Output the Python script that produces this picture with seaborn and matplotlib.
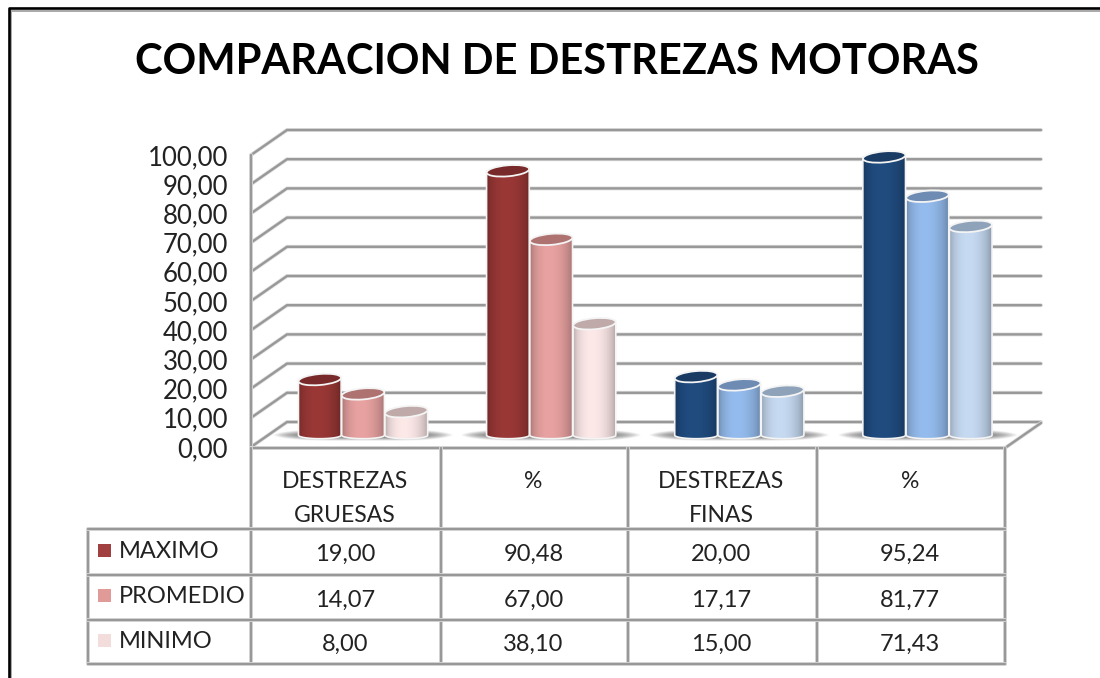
"""Comparacion de destrezas motoras: cylinder bars with a data table below."""

import matplotlib
matplotlib.use("Agg")
import matplotlib.pyplot as plt
import matplotlib.patheffects as pe
import numpy as np
import pandas as pd
import seaborn as sns
from matplotlib.patches import Ellipse, PathPatch, Rectangle
from matplotlib.path import Path
from matplotlib.ticker import FuncFormatter

# Data
group_keys = ["gruesas", "gruesas_pct", "finas", "finas_pct"]
group_labels = ["DESTREZAS\nGRUESAS", "%", "DESTREZAS\nFINAS", "%"]
series_names = ["MAXIMO", "PROMEDIO", "MINIMO"]
maximo = [19.00, 90.48, 20.00, 95.24]
promedio = [14.07, 67.00, 17.17, 81.77]
minimo = [8.00, 38.10, 15.00, 71.43]
y_ticks = [0, 10, 20, 30, 40, 50, 60, 70, 80, 90, 100]
title = "COMPARACION DE DESTREZAS MOTORAS"

# Colours per series: body centre and top cap, first two groups red, last two blue
red_body = ["#9A3836", "#E8A2A1", "#FEE9E9"]
red_cap = ["#772A29", "#AE7270", "#BFA9A9"]
blue_body = ["#204C80", "#94BCEE", "#C6DAF2"]
blue_cap = ["#183A63", "#6D8BB3", "#8EA2BA"]
swatches = ["#A04040", "#E09A98", "#F3DCDC"]
GRID = "#989898"
TEXT = "#222222"

W, H = 1100, 678
sns.set_theme(style="white")
plt.rcParams["font.family"] = ["Lato", "DejaVu Sans"]


def px_axes(fig, left, top, right, bottom):
    """Axes placed with reference pixel coordinates."""
    return fig.add_axes([left / W, 1 - bottom / H, (right - left) / W, (bottom - top) / H])


def comma(value):
    return f"{value:.2f}".replace(".", ",")


def grid_line(axis, xs, ys):
    # grey line with the soft halo the source picture has
    axis.plot(xs, ys, color=GRID, lw=1.7, solid_joinstyle="miter",
              path_effects=[pe.withStroke(linewidth=2.8, foreground="#DEDEDE")])


df = pd.DataFrame({
    "group": group_keys * 3,
    "serie": np.repeat(series_names, 4),
    "valor": maximo + promedio + minimo,
})

fig = plt.figure(figsize=(W / 100, H / 100), dpi=100, facecolor="white")

# Background layer in pixels: frame, walls, floor, table
bg = fig.add_axes([0, 0, 1, 1])
bg.set_xlim(0, W)
bg.set_ylim(H, 0)
bg.axis("off")
bg.plot([11, 11, W], [H, 10.5, 10.5], color="#A8A8A8", lw=1.4, solid_capstyle="butt")
bg.plot([8.7, 8.7, W], [H, 8.3, 8.3], color="black", lw=1.9, solid_capstyle="butt")

# Front plane: carries the value axis
FRONT_X, FRONT_TOP, FRONT_BOTTOM = 251, 155, 447
BACK_DX, BACK_DY, BACK_RIGHT = 36, -25, 1041
front = px_axes(fig, FRONT_X, FRONT_TOP, FRONT_X + 1, FRONT_BOTTOM)
front.patch.set_alpha(0)
front.set_ylim(0, 100)
front.set_xticks([])
front.set_yticks(y_ticks)
front.yaxis.set_major_formatter(FuncFormatter(lambda v, _: comma(v)))
front.tick_params(axis="y", length=0, pad=16.5, labelsize=18.5, labelcolor=TEXT)
sns.despine(ax=front, left=True, bottom=True)
for tick in y_ticks:
    fy = bg.transData.inverted().transform(front.transData.transform((0, tick)))[1]
    grid_line(bg, [FRONT_X, FRONT_X + BACK_DX, BACK_RIGHT], [fy, fy + BACK_DY, fy + BACK_DY])
grid_line(bg, [FRONT_X, FRONT_X], [FRONT_TOP, FRONT_BOTTOM + 1])
grid_line(bg, [FRONT_X, 1005, BACK_RIGHT], [FRONT_BOTTOM + 1, FRONT_BOTTOM + 1, FRONT_BOTTOM + 1 + BACK_DY])

# Table grid
col_x = [251, 441, 628, 817, 1005]
row_y = [448, 529, 575, 620, 664]
LEFT_X = 88
for x in col_x:
    grid_line(bg, [x, x], [row_y[0], row_y[-1]])
grid_line(bg, [LEFT_X, LEFT_X], [row_y[1], row_y[-1]])
for y in row_y[1:]:
    grid_line(bg, [LEFT_X, col_x[-1]], [y, y])

# Bars on their own value scale
ax = px_axes(fig, 269, 143, 1021.5, 435)
ax.patch.set_alpha(0)
sns.barplot(data=df, x="group", y="valor", hue="serie", order=group_keys,
            hue_order=series_names, width=0.69, gap=0, dodge=True, legend=False,
            saturation=1, ax=ax)
ax.set_xlim(-0.5, 3.5)
ax.set_ylim(0, 100)
ax.axis("off")

# Floor shadows, behind the cylinders
to_px = bg.transData.inverted()
yy, xx = np.mgrid[-1:1:40j, -1:1:160j]
shadow = np.zeros(xx.shape + (4,))
shadow[..., 3] = np.clip(1 - np.abs(xx) ** 4 - np.abs(yy) ** 1.5, 0, 1) * 0.9
shadow[..., :3] = 0.35
for k in range(len(group_keys)):
    first = ax.containers[0][k]
    last = ax.containers[2][k]
    x0 = to_px.transform(ax.transData.transform((first.get_x(), 0)))
    x1 = to_px.transform(ax.transData.transform((last.get_x() + last.get_width(), 0)))
    bg.imshow(shadow, extent=(x0[0] - 26, x1[0] + 26, 441, 429), aspect="auto",
              interpolation="bilinear", zorder=3)
bg.set_xlim(0, W)
bg.set_ylim(H, 0)

# Cylinders: gradient body clipped to a round-bottom outline, tilted cap on top
u = np.linspace(0, 1, 120)
shade = 0.66 + 0.34 * np.clip(np.sin(np.pi * u ** 0.85), 0, 1) ** 0.55
CAP_H = 11
TILT = -5
for s, container in enumerate(ax.containers):
    for k, bar in enumerate(container):
        body = red_body[s] if k < 2 else blue_body[s]
        cap = red_cap[s] if k < 2 else blue_cap[s]
        bar.set_facecolor("none")
        bar.set_edgecolor("none")
        left, base = to_px.transform(ax.transData.transform((bar.get_x(), 0)))
        right, top = to_px.transform(ax.transData.transform((bar.get_x() + bar.get_width(), bar.get_height())))
        left, right = left + 0.3, right - 0.3
        mid = (left + right) / 2
        half = (right - left) / 2
        t = np.linspace(np.pi, 0, 40)
        lower = np.column_stack([mid + half * np.cos(t), base + 0.2 + 3.5 * np.sin(t)])
        verts = np.vstack([[left, top], lower, [right, top], [left, top]])
        outline = PathPatch(Path(verts, closed=True), facecolor="none", edgecolor="#F4F4F4", lw=1.2,
                            transform=bg.transData, zorder=4 + s * 0.1, clip_on=False)
        rgb = np.array(matplotlib.colors.to_rgb(body))
        grad = (shade[None, :, None] * rgb[None, None, :]).clip(0, 1)
        img = ax.imshow(grad, extent=(left, right, base + 6, top), aspect="auto",
                        transform=bg.transData, zorder=3.9 + s * 0.1, interpolation="bilinear")
        img.set_clip_box(fig.bbox)
        img.set_clip_path(Path(verts, closed=True), bg.transData)
        ax.add_patch(outline)
        ax.add_patch(Ellipse((mid, top), right - left, CAP_H, angle=TILT, facecolor=cap,
                             edgecolor="#F4F4F4", lw=1.3, transform=bg.transData,
                             zorder=4.05 + s * 0.1, clip_on=False))
ax.set_xlim(-0.5, 3.5)
ax.set_ylim(0, 100)

# Title
bg.text(557, 62, title, ha="center", va="center", fontsize=30, fontweight="bold", color="black")

# Table text
for k, label in enumerate(group_labels):
    center = (col_x[k] + col_x[k + 1]) / 2
    for line_no, line in enumerate(label.split("\n")):
        bg.text(center - 1, 482 + 33 * line_no, line, ha="center", va="center", fontsize=16.5, color=TEXT)

for r, (name, values) in enumerate(zip(series_names, [maximo, promedio, minimo])):
    row_mid = (row_y[r + 1] + row_y[r + 2]) / 2
    bg.add_patch(Rectangle((98, row_mid - 8.5), 13, 13, facecolor=swatches[r], edgecolor="none"))
    bg.text(119, row_mid - 1, name, ha="left", va="center", fontsize=17, color=TEXT)
    for k, value in enumerate(values):
        center = (col_x[k] + col_x[k + 1]) / 2
        bg.text(center - 1, row_mid + 2.5, comma(value), ha="center", va="center", fontsize=17, color=TEXT)

fig.savefig("out.png", dpi=100)
